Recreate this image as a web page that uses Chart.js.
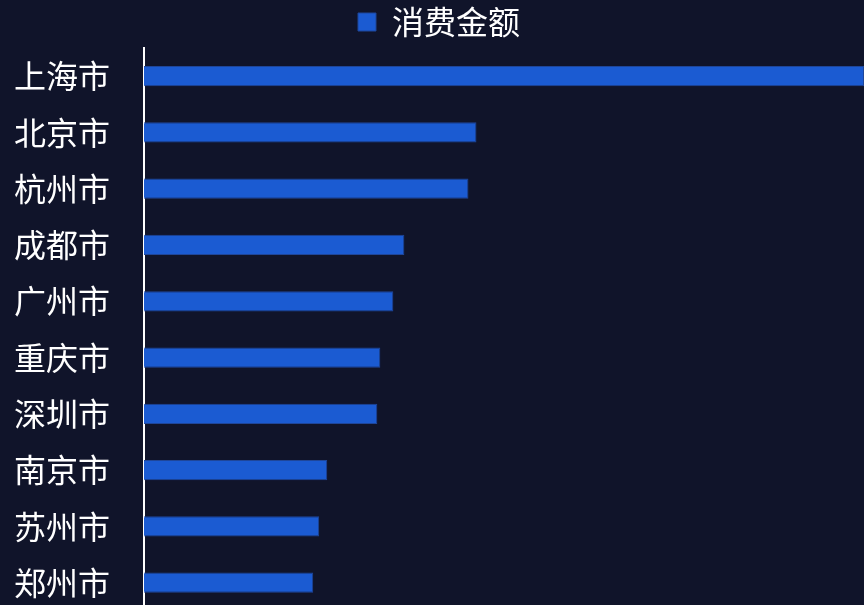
<!DOCTYPE html>
<html>
<head>
<meta charset="utf-8">
<script src="https://cdn.jsdelivr.net/npm/chart.js@4/dist/chart.umd.min.js"></script>
<style>
  html, body {
    margin: 0;
    padding: 0;
    background: #10142a;
    overflow: hidden;
  }
  #container {
    position: relative;
    width: 864px;
    height: 647px;
  }
</style>
</head>
<body>
<div id="container"><canvas id="canvas"></canvas></div>
<script>
  // 城市 / 消费金额
  var cities = ['上海市', '北京市', '杭州市', '成都市', '广州市', '重庆市', '深圳市', '南京市', '苏州市', '郑州市'];
  var amounts = [719, 332, 324, 260, 249, 236, 233, 183, 175, 169];
  var seriesName = '消费金额';

  var fontFamily = '"Noto Sans CJK SC", "Noto Sans", sans-serif';

  var ctx = document.getElementById('canvas').getContext('2d');

  new Chart(ctx, {
    type: 'bar',
    data: {
      labels: cities,
      datasets: [
        {
          label: seriesName,
          data: amounts,
          backgroundColor: '#1b5bd2',
          borderColor: '#1f4699',
          borderWidth: 1,
          barPercentage: 0.36,
          categoryPercentage: 1
        }
      ]
    },
    options: {
      indexAxis: 'y',
      animation: false,
      responsive: true,
      maintainAspectRatio: false,
      layout: {
        padding: { left: 14, right: 0, top: 0, bottom: 0 }
      },
      plugins: {
        tooltip: { enabled: false },
        legend: {
          display: true,
          position: 'top',
          labels: {
            color: '#ffffff',
            boxWidth: 18,
            boxHeight: 18,
            padding: 6,
            font: { size: 32, family: fontFamily }
          }
        }
      },
      scales: {
        x: {
          display: false,
          min: 0,
          max: Math.max.apply(null, amounts)
        },
        y: {
          grid: { display: false, drawTicks: false },
          border: { display: true, color: '#ffffff', width: 2 },
          ticks: {
            color: '#ffffff',
            crossAlign: 'far',
            padding: 17,
            font: { size: 32, family: fontFamily }
          }
        }
      }
    }
  });
</script>
</body>
</html>
